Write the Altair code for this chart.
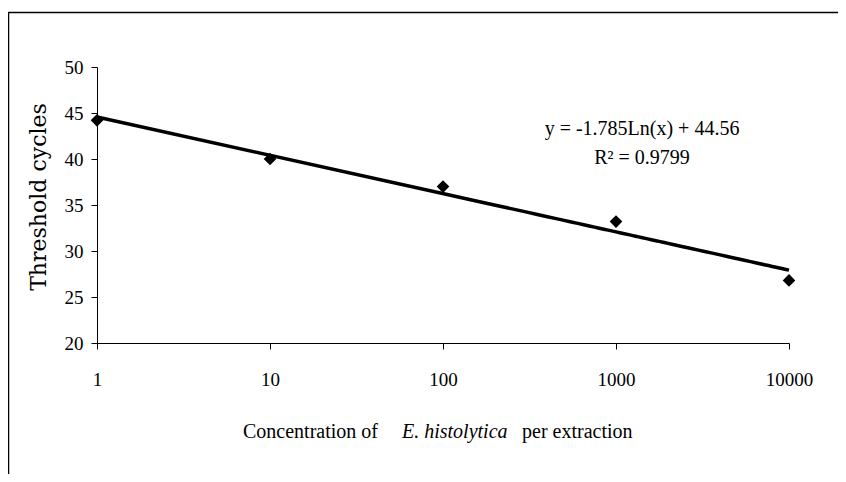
import altair as alt
import pandas as pd

concentration = [1, 10, 100, 1000, 10000]
threshold = [44.2, 40.0, 37.0, 33.2, 26.8]
x_ticks = [1, 10, 100, 1000, 10000]
y_ticks = [20, 25, 30, 35, 40, 45, 50]
equation_lines = ["y = -1.785Ln(x) + 44.56", "R\u00b2 = 0.9799"]
x_title_parts = ["Concentration  of", "E. histolytica", "per extraction"]
y_title = "Threshold cycles"

df = pd.DataFrame({"x": concentration, "y": threshold})

W, H = 692, 276
SERIF = "Liberation Serif"

xscale = alt.Scale(type="log", domain=[1, 10000])
yscale = alt.Scale(domain=[20, 50], nice=False, zero=False)

xaxis = alt.Axis(values=x_ticks, format="d", title=None, grid=False,
                 labelFont=SERIF, labelFontSize=19, labelColor="black",
                 labelPadding=21, tickSize=6, tickColor="black",
                 domainColor="black", labelFlush=False)
yaxis = alt.Axis(values=y_ticks, title=None, grid=False,
                 labelFont=SERIF, labelFontSize=19, labelColor="black",
                 labelPadding=8, tickSize=6, tickColor="black",
                 domainColor="black")

base = alt.Chart(df)

points = base.mark_point(shape="diamond", filled=True, color="black", size=160, opacity=1).encode(
    x=alt.X("x:Q", scale=xscale, axis=xaxis),
    y=alt.Y("y:Q", scale=yscale, axis=yaxis),
)

trend = base.transform_regression("x", "y", method="log", extent=[1, 10000]).mark_line(
    color="black", strokeWidth=3.5
).encode(
    x=alt.X("x:Q", scale=xscale, axis=xaxis),
    y=alt.Y("y:Q", scale=yscale, axis=yaxis),
)

eq1 = alt.Chart(pd.DataFrame({"t": [equation_lines[0]]})).mark_text(
    font=SERIF, fontSize=20, color="black", align="center", baseline="middle").encode(
    x=alt.value(545), y=alt.value(62), text="t:N")
eq2 = alt.Chart(pd.DataFrame({"t": [equation_lines[1]]})).mark_text(
    font=SERIF, fontSize=20, color="black", align="center", baseline="middle").encode(
    x=alt.value(545), y=alt.value(91), text="t:N")

xt1 = alt.Chart(pd.DataFrame({"t": [x_title_parts[0]]})).mark_text(
    font=SERIF, fontSize=20, color="black", align="left", baseline="middle").encode(
    x=alt.value(146), y=alt.value(365), text="t:N")
xt2 = alt.Chart(pd.DataFrame({"t": [x_title_parts[1]]})).mark_text(
    font=SERIF, fontSize=20, color="black", align="left", baseline="middle", fontStyle="italic").encode(
    x=alt.value(305), y=alt.value(365), text="t:N")
xt3 = alt.Chart(pd.DataFrame({"t": [x_title_parts[2]]})).mark_text(
    font=SERIF, fontSize=20, color="black", align="left", baseline="middle").encode(
    x=alt.value(425), y=alt.value(365), text="t:N")

yt = alt.Chart(pd.DataFrame({"t": [y_title]})).mark_text(
    font="DejaVu Serif", fontSize=22, color="black", angle=270, align="center", baseline="middle").encode(
    x=alt.value(-58), y=alt.value(130), text="t:N")

border = alt.Chart(pd.DataFrame({"a": [0]})).mark_rect(
    fill=None, stroke="black", strokeWidth=1.5).encode(
    x=alt.value(-88.5), x2=alt.value(800), y=alt.value(-54.5), y2=alt.value(500))

chart = alt.layer(border, trend, points, eq1, eq2, xt1, xt2, xt3, yt).properties(
    width=W, height=H,
    autosize=alt.AutoSizeParams(type="none"),
    padding={"left": 89, "top": 59, "right": 49, "bottom": 131},
    background="white",
).configure_view(stroke=None)

chart.save("out.html", embed_options={"renderer": "svg", "actions": False})
